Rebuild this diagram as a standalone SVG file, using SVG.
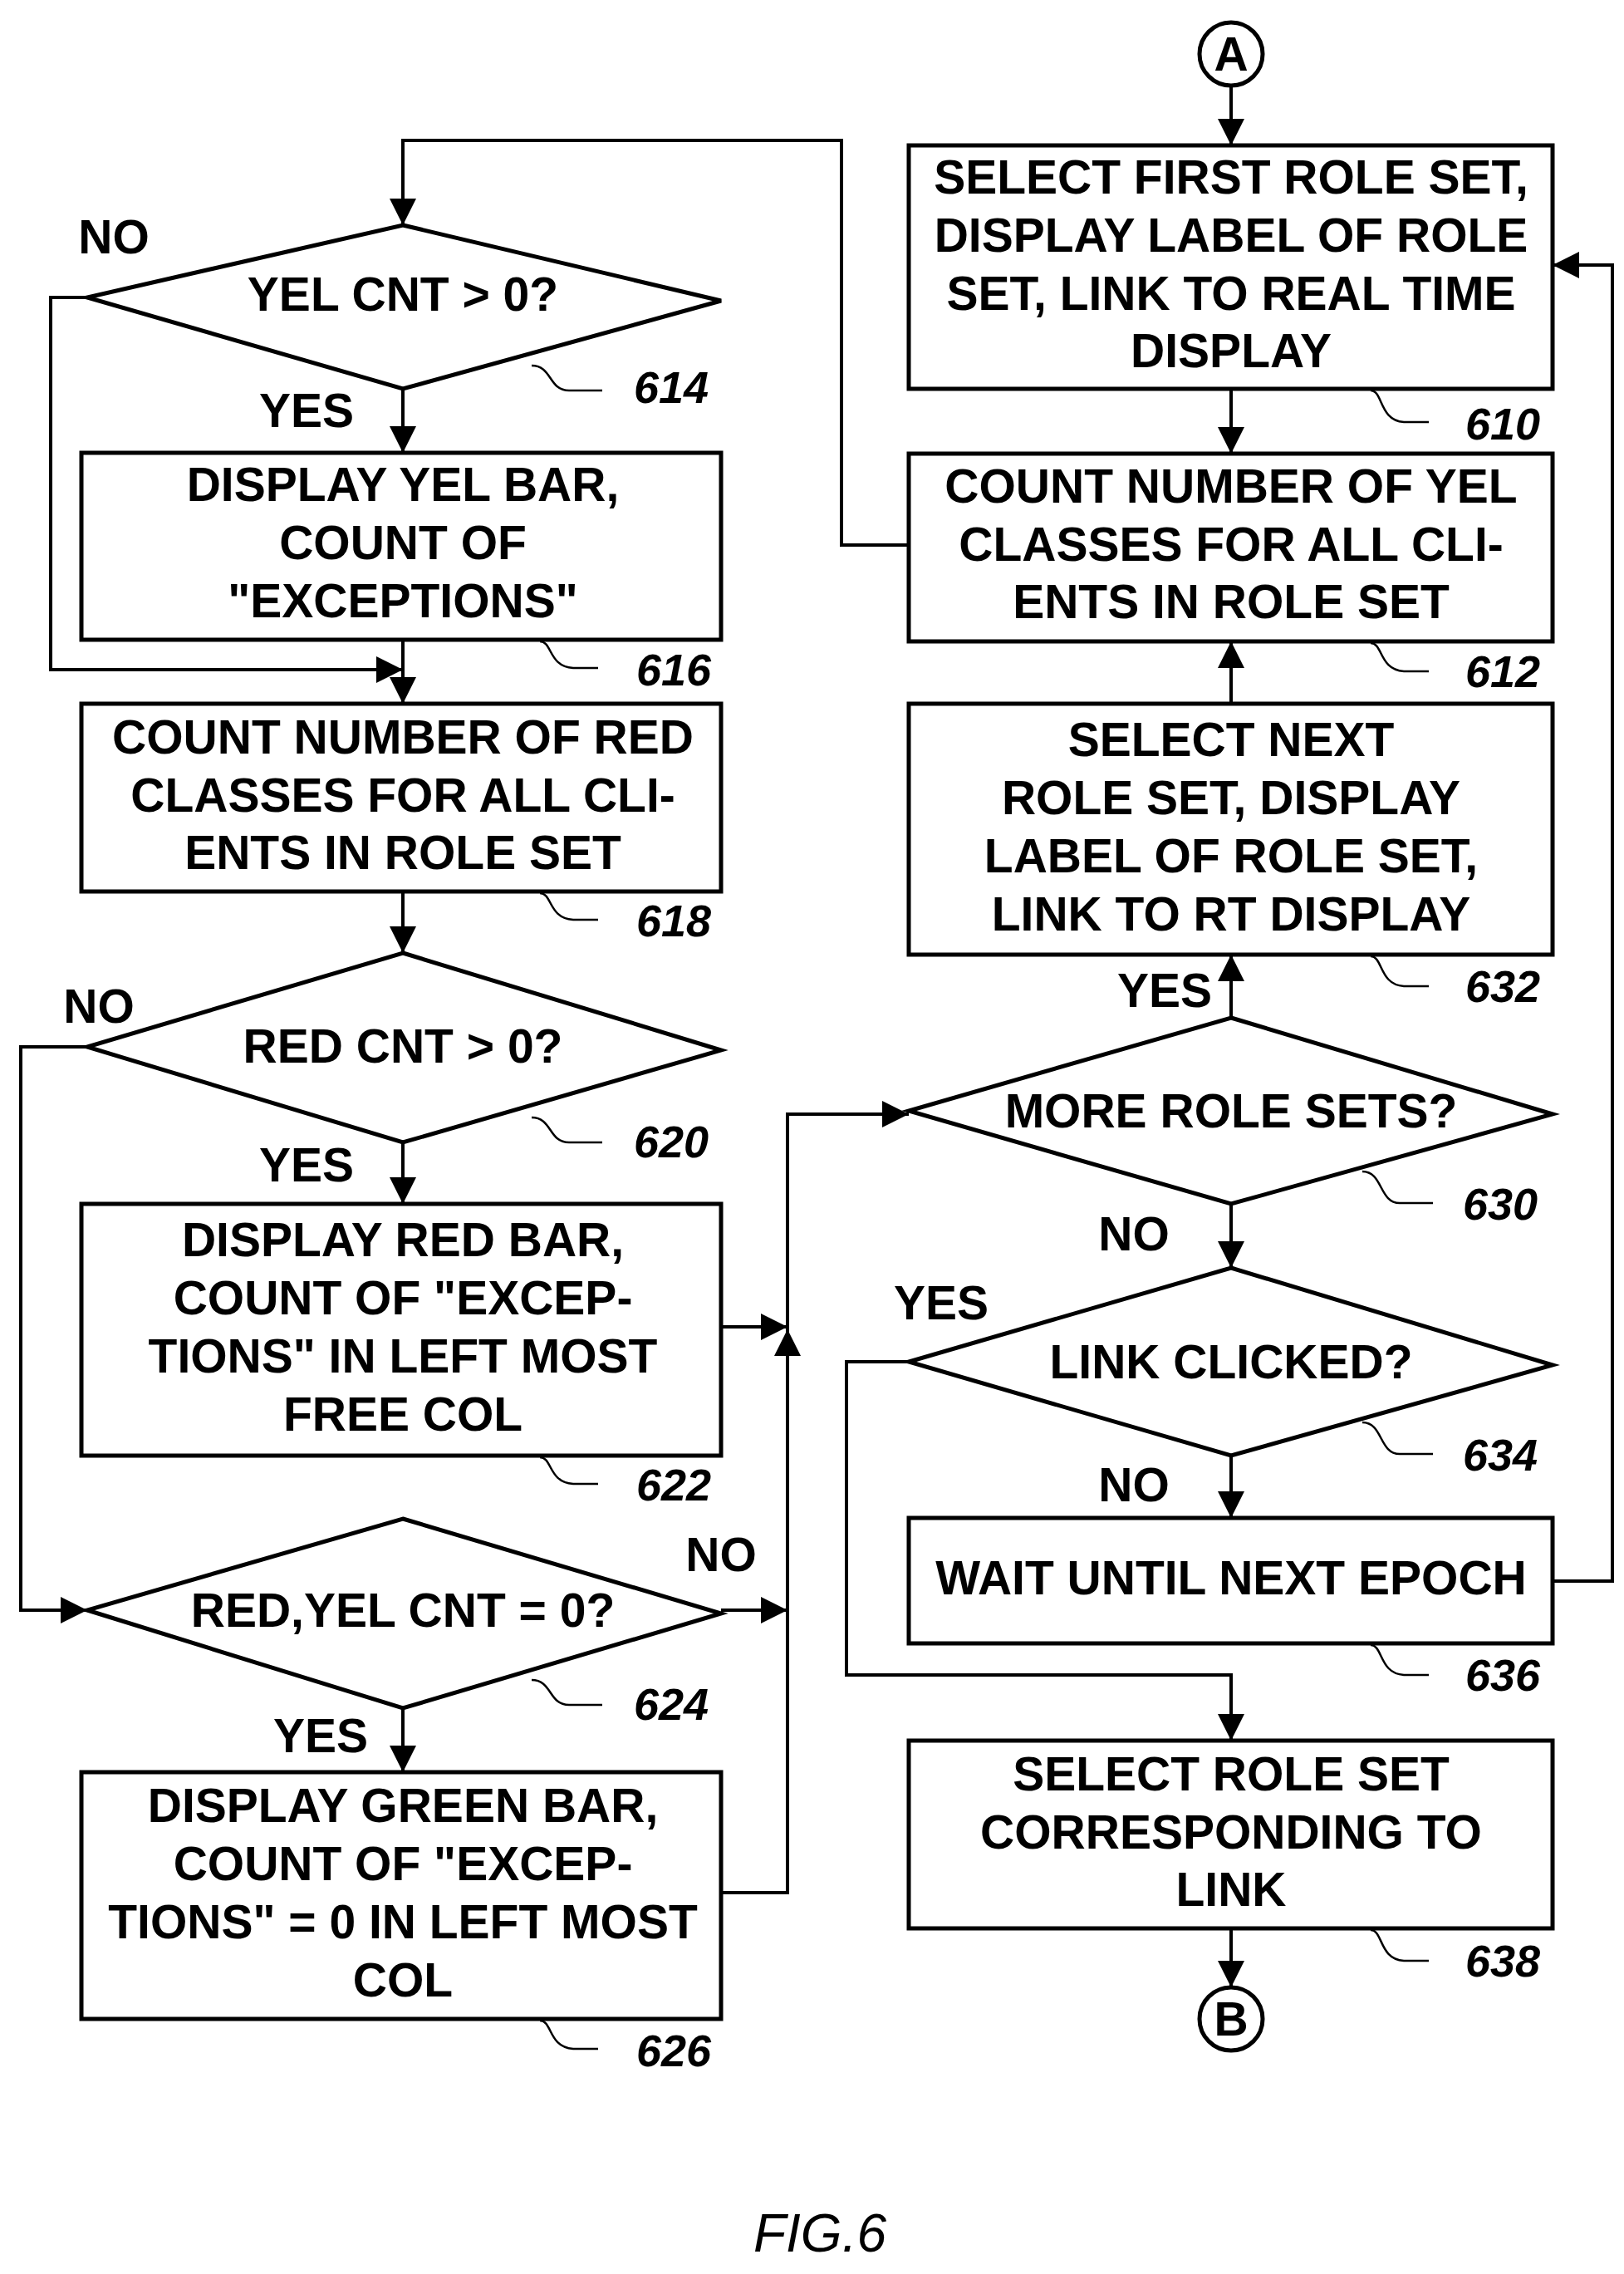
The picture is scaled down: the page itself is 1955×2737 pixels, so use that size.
<svg xmlns="http://www.w3.org/2000/svg" width="1955" height="2737" viewBox="0 0 1955 2737">
<style>
.s{fill:#fff;stroke:#000;stroke-width:5}
.c{fill:none;stroke:#000;stroke-width:4}
.l{fill:none;stroke:#000;stroke-width:2.5}
text{font-family:"Liberation Sans",Arial,sans-serif;font-weight:bold;font-size:57px;text-anchor:middle;dominant-baseline:central;fill:#000}
.n{font-style:italic;font-size:54px}
</style>
<defs>
<marker id="b" viewBox="0 0 10 10" refX="10" refY="5" markerWidth="36" markerHeight="32" markerUnits="userSpaceOnUse" orient="auto"><path d="M0,0L10,5L0,10z" fill="#000"/></marker></defs>
<rect width="1955" height="2737" fill="#fff"/>
<g id="connectors" class="c">
<path d="M1482 103V175" marker-end="url(#b)"/>
<path d="M1482 468V546" marker-end="url(#b)"/>
<path d="M1094 656H1013V169H485V271" marker-end="url(#b)"/>
<path d="M485 468V545" marker-end="url(#b)"/>
<path d="M105 358H61V806H485" marker-end="url(#b)"/>
<path d="M485 770V847" marker-end="url(#b)"/>
<path d="M485 1073V1147" marker-end="url(#b)"/>
<path d="M485 1375V1449" marker-end="url(#b)"/>
<path d="M105 1260H25V1938H105" marker-end="url(#b)"/>
<path d="M485 2056V2133" marker-end="url(#b)"/>
<path d="M868 1597H948" marker-end="url(#b)"/>
<path d="M868 1938H948" marker-end="url(#b)"/>
<path d="M868 2278H948V1600" marker-end="url(#b)"/>
<path d="M948 1940V1341H1094" marker-end="url(#b)"/>
<path d="M1482 1225V1149" marker-end="url(#b)"/>
<path d="M1482 847V772" marker-end="url(#b)"/>
<path d="M1482 1449V1526" marker-end="url(#b)"/>
<path d="M1482 1752V1827" marker-end="url(#b)"/>
<path d="M1094 1639H1019V2016H1482V2095" marker-end="url(#b)"/>
<path d="M1869 1903H1941V319H1869" marker-end="url(#b)"/>
<path d="M1482 2321V2392" marker-end="url(#b)"/>
</g>
<g id="A"><circle class="s" cx="1482" cy="65" r="38"/><text x="1482" y="65">A</text></g>
<g id="n610"><rect class="s" x="1094" y="175" width="775" height="293"/><text x="1482" y="213">SELECT FIRST ROLE SET,</text><text x="1482" y="283">DISPLAY LABEL OF ROLE</text><text x="1482" y="353">SET, LINK TO REAL TIME</text><text x="1482" y="422">DISPLAY</text></g>
<g id="n612"><rect class="s" x="1094" y="546" width="775" height="226"/><text x="1482" y="585">COUNT NUMBER OF YEL</text><text x="1482" y="655">CLASSES FOR ALL CLI-</text><text x="1482" y="724">ENTS IN ROLE SET</text></g>
<g id="n632"><rect class="s" x="1094" y="847" width="775" height="302"/><text x="1482" y="890">SELECT NEXT</text><text x="1482" y="960">ROLE SET, DISPLAY</text><text x="1482" y="1030">LABEL OF ROLE SET,</text><text x="1482" y="1100">LINK TO RT DISPLAY</text></g>
<g id="n630"><path class="s" d="M1482 1225L1869 1341L1482 1449L1094 1337Z"/><text x="1482" y="1337">MORE ROLE SETS?</text></g>
<g id="n634"><path class="s" d="M1482 1526L1869 1643L1482 1752L1094 1639Z"/><text x="1482" y="1639">LINK CLICKED?</text></g>
<g id="n636"><rect class="s" x="1094" y="1827" width="775" height="151"/><text x="1482" y="1899">WAIT UNTIL NEXT EPOCH</text></g>
<g id="n638"><rect class="s" x="1094" y="2095" width="775" height="226"/><text x="1482" y="2135">SELECT ROLE SET</text><text x="1482" y="2205">CORRESPONDING TO</text><text x="1482" y="2274">LINK</text></g>
<g id="B"><circle class="s" cx="1482" cy="2430" r="38"/><text x="1482" y="2430">B</text></g>
<g id="n614"><path class="s" d="M485 271L868 362L485 468L105 358Z"/><text x="485" y="354">YEL CNT &gt; 0?</text></g>
<g id="n616"><rect class="s" x="98" y="545" width="770" height="225"/><text x="485" y="583">DISPLAY YEL BAR,</text><text x="485" y="653">COUNT OF</text><text x="485" y="723">"EXCEPTIONS"</text></g>
<g id="n618"><rect class="s" x="98" y="847" width="770" height="226"/><text x="485" y="887">COUNT NUMBER OF RED</text><text x="485" y="957">CLASSES FOR ALL CLI-</text><text x="485" y="1026">ENTS IN ROLE SET</text></g>
<g id="n620"><path class="s" d="M485 1147L868 1264L485 1375L105 1260Z"/><text x="485" y="1259">RED CNT &gt; 0?</text></g>
<g id="n622"><rect class="s" x="98" y="1449" width="770" height="303"/><text x="485" y="1492">DISPLAY RED BAR,</text><text x="485" y="1562">COUNT OF "EXCEP-</text><text x="485" y="1632">TIONS" IN LEFT MOST</text><text x="485" y="1702">FREE COL</text></g>
<g id="n624"><path class="s" d="M485 1828L868 1942L485 2056L105 1938Z"/><text x="485" y="1938">RED,YEL CNT = 0?</text></g>
<g id="n626"><rect class="s" x="98" y="2133" width="770" height="297"/><text x="485" y="2173">DISPLAY GREEN BAR,</text><text x="485" y="2243">COUNT OF "EXCEP-</text><text x="485" y="2313">TIONS" = 0 IN LEFT MOST</text><text x="485" y="2383">COL</text></g>
<g id="labels">
<text x="137" y="285">NO</text><text x="369" y="494">YES</text><text x="119" y="1211">NO</text><text x="369" y="1402">YES</text><text x="868" y="1871">NO</text><text x="386" y="2089">YES</text><text x="1402" y="1192">YES</text><text x="1365" y="1485">NO</text><text x="1133" y="1568">YES</text><text x="1365" y="1787">NO</text>
</g>
<g id="refs">
<path class="l" d="M640 440c25 0 20 30 45 30h40"/><text class="n" x="808" y="466">614</text>
<path class="l" d="M650 772c15 0 10 30 40 32h30"/><text class="n" x="811" y="806">616</text>
<path class="l" d="M650 1075c15 0 10 30 40 32h30"/><text class="n" x="811" y="1108">618</text>
<path class="l" d="M640 1345c25 0 20 30 45 30h40"/><text class="n" x="808" y="1374">620</text>
<path class="l" d="M650 1754c15 0 10 30 40 32h30"/><text class="n" x="811" y="1787">622</text>
<path class="l" d="M640 2022c25 0 20 30 45 30h40"/><text class="n" x="808" y="2051">624</text>
<path class="l" d="M650 2432c15 0 10 32 40 34h30"/><text class="n" x="811" y="2468">626</text>
<path class="l" d="M1650 470c15 0 10 36 40 38h30"/><text class="n" x="1809" y="510">610</text>
<path class="l" d="M1650 774c15 0 10 32 40 34h30"/><text class="n" x="1809" y="808">612</text>
<path class="l" d="M1650 1151c15 0 10 34 40 36h30"/><text class="n" x="1809" y="1187">632</text>
<path class="l" d="M1640 1410c25 0 20 38 45 38h40"/><text class="n" x="1806" y="1449">630</text>
<path class="l" d="M1640 1712c25 0 20 38 45 38h40"/><text class="n" x="1806" y="1751">634</text>
<path class="l" d="M1650 1980c15 0 10 34 40 36h30"/><text class="n" x="1809" y="2016">636</text>
<path class="l" d="M1650 2323c15 0 10 35 40 37h30"/><text class="n" x="1809" y="2360">638</text>
</g>
<text class="n" x="987" y="2688" style="font-weight:normal;font-size:64px">FIG.6</text>
</svg>
